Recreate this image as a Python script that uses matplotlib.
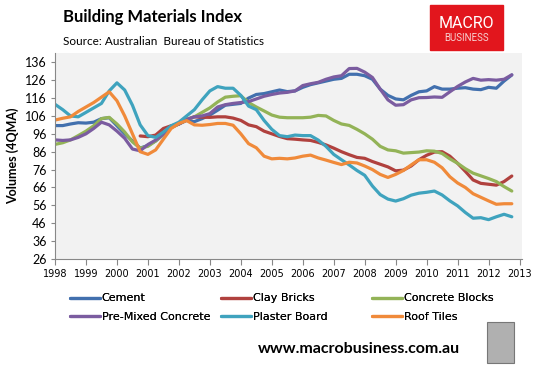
import numpy as np
import matplotlib.pyplot as plt
from matplotlib.patches import Rectangle

# quarterly index values, 4 quarter moving average
years = 1998 + np.arange(60) / 4.0

cement = [100.6, 100.6, 101.5, 102.2, 102.0, 102.5, 104.5, 105.0, 100.5, 96.0,
          92.0, 88.0, 89.5, 92.0, 95.5, 99.5, 101.5, 103.5, 102.8, 104.5,
          106.5, 109.2, 112.0, 112.5, 113.0, 116.0, 118.0, 118.5, 119.5, 120.5,
          119.6, 120.0, 122.0, 123.5, 124.5, 125.5, 126.5, 127.0, 129.3, 129.3,
          128.5, 126.5, 121.0, 117.5, 115.5, 115.0, 117.5, 119.5, 120.0, 122.4,
          121.0, 121.0, 121.5, 121.8, 121.0, 120.7, 122.0, 121.5, 125.5, 128.9]

clay_bricks = [None] * 11 + [
          94.8, 94.4, 95.3, 99.0, 100.5, 101.5, 104.0, 105.5, 105.3,
          105.2, 105.5, 105.5, 104.8, 103.5, 101.0, 100.0, 97.5, 96.0, 94.5,
          93.3, 93.0, 92.6, 92.3, 91.2, 89.8, 88.0, 86.0, 84.3, 82.8,
          82.3, 80.5, 79.0, 77.5, 75.3, 75.7, 78.0, 81.5, 84.0, 85.8,
          86.0, 83.5, 79.5, 75.0, 70.2, 68.3, 67.8, 67.3, 69.3, 72.4]

concrete_blocks = [90.1, 91.0, 92.6, 95.0, 97.5, 100.5, 104.5, 105.2, 101.5, 97.0,
          91.5, 88.0, 89.0, 92.0, 96.0, 99.5, 101.5, 104.0, 105.5, 108.0,
          110.5, 113.8, 116.5, 117.0, 117.3, 113.5, 111.0, 108.8, 106.5, 105.3,
          105.0, 105.0, 105.0, 105.3, 106.3, 106.0, 103.5, 101.5, 100.7, 98.5,
          96.0, 93.0, 89.0, 87.0, 86.5, 85.2, 85.5, 85.8, 86.5, 86.3,
          85.0, 82.0, 79.5, 76.5, 74.0, 72.5, 71.0, 69.3, 66.5, 64.0]

premixed = [92.6, 92.3, 92.6, 94.0, 96.0, 99.0, 102.5, 101.0, 97.5, 93.5,
          87.5, 86.5, 90.0, 92.5, 96.0, 100.0, 101.5, 104.0, 105.5, 106.0,
          107.3, 111.0, 112.3, 113.0, 113.5, 114.0, 115.5, 117.0, 118.0, 118.8,
          119.2, 120.0, 123.0, 124.0, 124.8, 126.5, 127.8, 128.5, 132.5, 132.6,
          130.5, 127.5, 121.0, 115.0, 112.0, 112.3, 115.0, 116.2, 116.3, 116.6,
          116.4, 119.5, 122.5, 125.0, 127.0, 126.0, 126.3, 126.0, 126.5, 129.0]

plaster_board = [112.5, 109.5, 106.0, 105.5, 108.0, 110.5, 113.0, 120.0, 124.5, 120.5,
          112.0, 101.0, 95.0, 94.0, 97.0, 100.5, 102.5, 106.0, 109.5, 115.0,
          120.0, 122.4, 121.5, 121.5, 117.5, 111.5, 109.5, 103.5, 98.5, 95.0,
          94.4, 95.3, 95.0, 95.0, 92.5, 89.0, 84.5, 81.5, 78.6, 75.5,
          72.8, 66.8, 62.0, 59.5, 58.4, 59.7, 61.7, 62.8, 63.3, 64.0,
          61.8, 58.5, 55.7, 52.0, 48.8, 49.1, 48.0, 49.6, 51.0, 49.6]

roof_tiles = [103.7, 104.7, 105.5, 108.5, 111.0, 113.5, 116.5, 119.5, 114.5, 106.0,
          96.0, 86.0, 84.5, 87.0, 93.0, 99.0, 101.8, 103.4, 101.0, 100.8,
          101.2, 101.8, 101.8, 100.8, 96.0, 90.5, 88.2, 83.5, 82.0, 82.3,
          82.0, 82.5, 83.5, 84.1, 82.5, 81.3, 80.0, 78.8, 80.1, 79.7,
          78.0, 76.0, 73.3, 71.6, 73.3, 75.5, 78.6, 81.5, 81.5, 80.1,
          77.0, 72.0, 68.5, 66.0, 62.5, 60.5, 58.5, 56.6, 56.9, 56.9]

series = [
    ("Cement", cement, "#4270AE"),
    ("Clay Bricks", clay_bricks, "#B0413E"),
    ("Concrete Blocks", concrete_blocks, "#93B357"),
    ("Pre-Mixed Concrete", premixed, "#7B5CA0"),
    ("Plaster Board", plaster_board, "#3FA3BE"),
    ("Roof Tiles", roof_tiles, "#F08A3A"),
]

fig = plt.figure(figsize=(5.43, 3.67), dpi=100)
ax = fig.add_axes([0.1013, 0.2943, 0.8595, 0.5613])
ax.set_facecolor("#F2F2F2")

lines = []
for name, vals, col in series:
    v = np.array([np.nan if x is None else x for x in vals], dtype=float)
    ln, = ax.plot(years, v, color=col, lw=2.3, label=name, solid_capstyle="round")
    lines.append(ln)

ax.set_xlim(1998, 2013.07)
ax.set_ylim(26, 141.2)
ax.set_yticks(np.arange(26, 137, 10))
ax.set_xticks(np.arange(1998, 2014))
ax.tick_params(axis="y", labelsize=9, length=3, color="#888888", pad=3)
ax.tick_params(axis="x", labelsize=7, length=4, color="#888888", pad=3)
for lab in ax.get_yticklabels():
    lab.set_family("Lato")
for s in ["top", "right"]:
    ax.spines[s].set_visible(False)
for s in ["left", "bottom"]:
    ax.spines[s].set_color("#888888")
ax.set_ylabel("Volumes (4QMA)", fontsize=9, fontweight="bold", family="Lato",
              labelpad=4)

# legend: three columns, row-wise order as in the original
col_x = [66, 217, 368]
for i, x0 in enumerate(col_x):
    hs = [lines[i], lines[i + 3]]
    lg = fig.legend(hs, [h.get_label() for h in hs], loc="upper left",
                    bbox_to_anchor=(x0 / 543, 1 - 289 / 367), frameon=False,
                    fontsize=8, handlelength=2.7, handletextpad=0.1,
                    labelspacing=0.75, borderaxespad=0)
    fig.add_artist(lg)

fig.text(0.116, 0.953, "Building Materials Index", fontsize=12,
         fontweight="bold", family="Lato", va="center")
fig.text(0.116, 0.888, "Source: Australian  Bureau of Statistics", fontsize=8.5,
         family="Lato", va="center")

# logo box
fig.patches.append(Rectangle((430 / 543, 1 - 50 / 367), 73 / 543, 45 / 367,
                             transform=fig.transFigure, color="#E2161D"))
fig.text(466.5 / 543, 1 - 23 / 367, "MACRO", color="white", fontsize=11.5,
         ha="center", va="center", family="Roboto")
fig.text(466.5 / 543, 1 - 38 / 367, "BUSINESS", color="#F6D0D0", fontsize=7,
         ha="center", va="center", family="Roboto")

fig.text(359 / 543, 1 - 349 / 367, "www.macrobusiness.com.au", fontsize=11.5,
         fontweight="bold", family="Lato", ha="center", va="center")
fig.patches.append(Rectangle((487 / 543, 1 - 363 / 367), 27 / 543, 41 / 367,
                             transform=fig.transFigure, facecolor="#B0B0B0",
                             edgecolor="#777777", lw=0.8))

fig.savefig("out.png", dpi=100)
